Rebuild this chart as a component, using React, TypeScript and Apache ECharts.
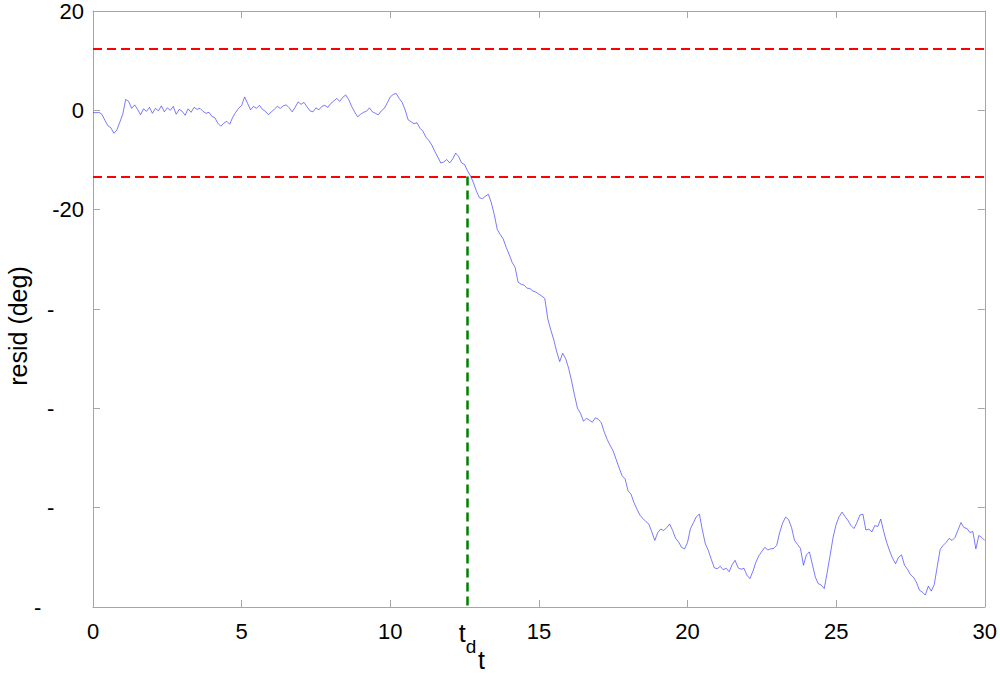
import React, { useEffect, useRef } from "react";
import * as echarts from "echarts";

const tStart = 0;
const tStep = 0.1;
const resid: number[] = [
  -0.4, -0.5, -0.4, -0.8, -2.0, -3.1, -3.5, -4.6, -4.0, -2.4,
  -0.8, 2.2, 1.8, 0.4, 1.1, 0.2, -0.9, 0.3, -0.2, 0.6,
  -0.6, 0.4, -0.1, 0.9, -0.3, 0.5, 0.0, 0.8, -0.8, 0.2,
  -0.2, -1.0, 0.3, -0.4, 0.6, 0.2, 0.4, -0.2, -0.6, -0.4,
  -1.2, -1.5, -2.6, -3.2, -2.6, -2.2, -2.8, -1.4, -0.4, 0.4,
  1.0, 2.7, 1.4, 0.1, 0.8, 0.4, 1.0, 0.2, -0.2, -0.9,
  -0.3, 0.2, 0.8, 0.4, 0.9, 1.1, 0.5, -0.3, 0.6, 1.7,
  1.2, 1.6, 0.7, -0.1, -0.3, 0.5, 0.1, 0.8, 1.0, 0.6,
  1.4, 1.9, 2.4, 1.8, 2.6, 3.1, 2.2, 0.8, -0.3, -1.3,
  -0.8, -0.4, -0.2, 0.5, -0.3, -0.6, -0.9, -0.1, 0.4, 1.5,
  2.7, 3.2, 3.4, 2.4, 1.6, 0.1, -1.9, -2.3, -2.7, -2.5,
  -3.6, -4.2, -5.4, -6.1, -7.0, -8.3, -9.4, -10.6, -10.4, -9.9,
  -10.6, -9.8, -8.6, -9.3, -10.6, -10.9, -12.2, -13.2, -14.6, -16.3,
  -17.6, -17.8, -17.3, -16.9, -18.6, -21.0, -24.0, -25.0, -25.9, -27.6,
  -29.0, -30.6, -31.6, -34.6, -35.0, -35.2, -35.8, -35.9, -36.4, -36.6,
  -37.0, -37.4, -37.9, -42.0, -44.2, -46.2, -48.6, -50.6, -48.9, -50.0,
  -51.9, -54.5, -57.4, -60.0, -61.0, -62.6, -62.0, -62.4, -62.8, -61.9,
  -62.2, -62.9, -64.8, -66.3, -67.5, -68.6, -70.3, -72.0, -73.6, -74.2,
  -76.6, -77.3, -79.0, -80.3, -81.5, -82.2, -82.8, -83.3, -84.9, -86.6,
  -85.0, -84.3, -84.6, -84.0, -83.3, -84.6, -86.2, -86.9, -88.0, -88.3,
  -87.0, -84.2, -83.0, -81.8, -81.3, -84.5, -87.3, -88.6, -90.4, -92.1,
  -92.3, -91.8, -92.5, -92.2, -92.9, -91.5, -90.6, -92.1, -92.4, -92.2,
  -93.6, -94.3, -92.8, -91.0, -89.7, -88.8, -88.0, -88.5, -88.3, -88.2,
  -87.6, -85.0, -83.1, -81.9, -82.4, -84.0, -86.6, -87.4, -88.2, -91.6,
  -89.5, -88.9, -91.4, -94.0, -95.3, -95.6, -96.3, -93.0, -89.5, -85.9,
  -83.4, -81.8, -80.9, -81.8, -82.6, -83.6, -84.2, -83.0, -81.5, -81.3,
  -84.5, -84.3, -84.9, -83.6, -83.8, -82.3, -84.8, -87.0, -88.7, -90.2,
  -91.3, -90.0, -89.5, -91.6, -92.4, -93.5, -94.0, -95.0, -96.6, -97.0,
  -97.6, -95.8, -96.8, -95.5, -91.9, -88.4, -87.6, -87.0, -86.2, -86.6,
  -86.0, -84.5, -83.0, -84.0, -84.2, -85.0, -84.8, -88.3, -85.6, -86.0,
  -86.6,
];

const upperThreshold = 12.5;
const lowerThreshold = -13.3;
const detectionTime = 12.6;

const xMin = 0;
const xMax = 30;
const xInterval = 5;
const xLabelValues = [0, 5, 10, detectionTime, 15, 20, 25, 30];
const yMin = -100;
const yMax = 20;
const yInterval = 20;
const yShownLabels: Record<string, string> = { "20": "20", "0": "0", "-20": "-20" };

const xName = "t";
const yName = "resid (deg)";

const FONT = "Liberation Sans, Arial, sans-serif";
const AXIS_GREY = "#a6a6a6";

export default function App() {
  const ref = useRef<HTMLDivElement>(null);

  useEffect(() => {
    if (!ref.current) return;
    const chart = echarts.init(ref.current, undefined, { renderer: "svg" });
    const seriesData = resid.map((v, i) => [+(tStart + i * tStep).toFixed(2), v]);

    const axisCommon = {
      axisLine: { show: true, onZero: false, lineStyle: { color: AXIS_GREY, width: 1 } },
      axisTick: { show: true, inside: true, length: 7, lineStyle: { color: AXIS_GREY } },
      splitLine: { show: false },
    };

    chart.setOption({
      animation: false,
      backgroundColor: "#ffffff",
      textStyle: { fontFamily: FONT },
      grid: { left: 93, right: 15, top: 7, bottom: 73, containLabel: false },
      xAxis: [
        {
          type: "value",
          min: xMin,
          max: xMax,
          interval: xInterval,
          position: "bottom",
          ...axisCommon,
          axisLabel: {
            color: "#000",
            fontSize: 22,
            fontFamily: FONT,
            margin: 13,
            customValues: xLabelValues,
            formatter: (v: number) => (v === detectionTime ? "{t|t}{d|d}" : String(v)),
            rich: {
              t: { fontSize: 25, fontFamily: FONT, color: "#000", lineHeight: 24, verticalAlign: "top" },
              d: { fontSize: 19, fontFamily: FONT, color: "#000", lineHeight: 36, verticalAlign: "bottom" },
            },
          },
        },
        {
          type: "value",
          min: xMin,
          max: xMax,
          interval: xInterval,
          position: "top",
          ...axisCommon,
          axisLabel: { show: false },
        },
      ],
      yAxis: [
        {
          type: "value",
          min: yMin,
          max: yMax,
          interval: yInterval,
          position: "left",
          ...axisCommon,
          axisLabel: {
            color: "#000",
            fontSize: 22,
            fontFamily: FONT,
            margin: 9,
            formatter: (v: number) => {
              const key = String(v);
              if (yShownLabels[key] !== undefined) return yShownLabels[key];
              if (v === yMin) return "{w|-}";
              return "{m|-}";
            },
            rich: {
              m: { width: 37, align: "left", fontSize: 22, fontFamily: FONT, color: "#000" },
              w: { width: 50, align: "left", fontSize: 22, fontFamily: FONT, color: "#000" },
            },
          },
        },
        {
          type: "value",
          min: yMin,
          max: yMax,
          interval: yInterval,
          position: "right",
          ...axisCommon,
          axisLabel: { show: false },
        },
      ],
      graphic: [
        {
          type: "text",
          left: 478,
          top: 647,
          style: { text: xName, fontSize: 25, fontFamily: FONT, fill: "#000" },
        },
        {
          type: "text",
          x: 18,
          y: 326,
          rotation: Math.PI / 2,
          style: {
            text: yName,
            fontSize: 25,
            fontFamily: FONT,
            fill: "#000",
            align: "center",
            verticalAlign: "middle",
          },
        },
      ],
      series: [
        {
          type: "line",
          xAxisIndex: 0,
          yAxisIndex: 0,
          data: seriesData,
          showSymbol: false,
          symbol: "none",
          lineStyle: { color: "#3a3aff", width: 0.8, opacity: 0.85 },
          z: 2,
          markLine: {
            silent: true,
            symbol: "none",
            label: { show: false },
            data: [
              {
                yAxis: upperThreshold,
                lineStyle: { color: "#ff0000", width: 2, type: [9, 5] },
              },
              {
                yAxis: lowerThreshold,
                lineStyle: { color: "#ff0000", width: 2, type: [9, 5] },
              },
              [
                {
                  coord: [detectionTime, lowerThreshold],
                  lineStyle: { color: "#008000", width: 2.5, type: [9, 5] },
                },
                { coord: [detectionTime, yMin] },
              ],
            ],
          },
        },
      ],
    });

    return () => chart.dispose();
  }, []);

  return (
    <div
      ref={ref}
      style={{ position: "fixed", left: 0, top: 0, width: 1000, height: 680, background: "#fff" }}
    />
  );
}
